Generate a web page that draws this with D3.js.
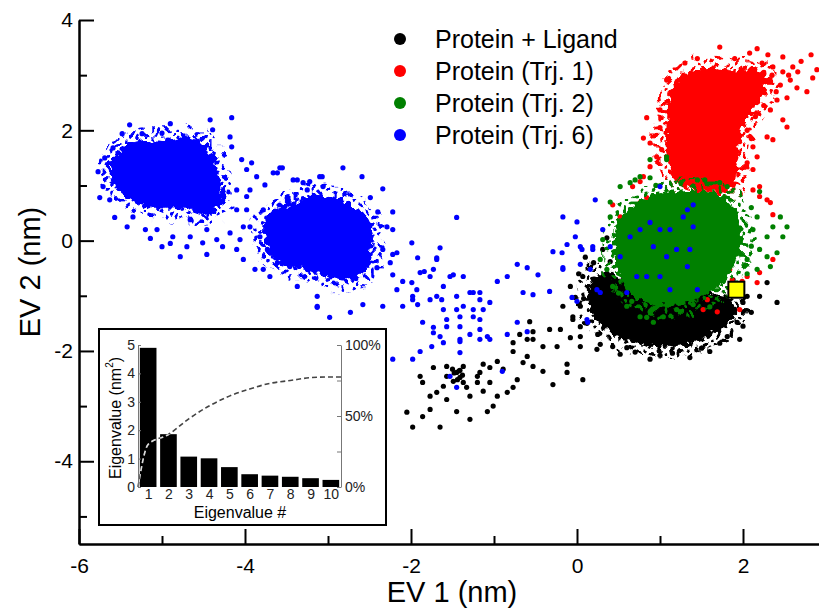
<!DOCTYPE html>
<html>
<head>
<meta charset="utf-8">
<script src="https://cdn.jsdelivr.net/npm/d3@7"></script>
<style>
  body { margin: 0; background: #fff; }
  text { font-family: "Liberation Sans", Arial, Helvetica, sans-serif; }
</style>
</head>
<body>
<div id="chart"></div>
<script>
// ---- data (EV1, EV2 in nm) ----
// dense centres of each cloud, as outlines
var blackCore = [[0.20,-0.66],[0.36,-0.55],[0.52,-0.66],[0.88,-0.92],[1.48,-0.95],[1.78,-1.00],[1.88,-1.10],[1.90,-1.34],[1.76,-1.58],[1.52,-1.78],[1.24,-1.92],[0.88,-1.90],[0.54,-1.76],[0.30,-1.55],[0.16,-1.25],[0.14,-0.92]];
var redCore = [[1.20,2.90],[1.38,3.08],[1.64,3.14],[1.88,3.08],[2.05,3.12],[2.22,3.05],[2.28,2.80],[2.18,2.50],[2.04,2.20],[1.96,1.77],[1.92,1.41],[1.90,1.05],[1.76,0.87],[1.57,0.90],[1.33,0.95],[1.18,1.10],[1.10,1.41],[1.06,1.83],[1.10,2.24],[1.12,2.61]];
var greenCore = [[0.52,0.40],[0.74,0.70],[1.00,0.86],[1.40,0.92],[1.70,0.86],[1.86,0.66],[1.96,0.36],[2.00,0.07],[1.96,-0.22],[1.86,-0.56],[1.70,-0.85],[1.50,-1.03],[1.32,-1.14],[1.08,-1.20],[0.86,-1.14],[0.62,-0.98],[0.55,-0.74],[0.47,-0.45],[0.44,-0.04],[0.47,0.24]];
var blueCoreA = [[-5.60,1.47],[-5.45,1.74],[-5.23,1.84],[-4.90,1.82],[-4.66,1.88],[-4.48,1.74],[-4.37,1.50],[-4.33,1.16],[-4.26,0.82],[-4.33,0.58],[-4.51,0.47],[-4.75,0.58],[-4.99,0.58],[-5.23,0.64],[-5.40,0.76],[-5.56,0.98],[-5.62,1.23]];
var blueCoreB = [[-3.78,0.25],[-3.67,0.54],[-3.46,0.66],[-3.18,0.83],[-2.89,0.77],[-2.67,0.60],[-2.52,0.42],[-2.45,0.14],[-2.49,-0.16],[-2.52,-0.45],[-2.63,-0.68],[-2.86,-0.72],[-3.13,-0.59],[-3.37,-0.50],[-3.59,-0.38],[-3.74,-0.16]];

// scattered frames
var blackPts = [[0.36,0.05],[0.07,-0.65],[-0.08,-0.83],[0.19,-0.83],[0.04,-1.19],[-0.05,-1.38],[0.04,-1.74],[-0.17,-1.19],[0.40,-0.38],[1.88,-0.71],[2.05,-1.01],[2.20,-1.01],[2.29,-0.76],[2.41,-1.12],[1.93,-1.48],[1.81,-1.74],[0.31,-0.16],[0.52,-2.06],[0.88,-2.15],[1.36,-2.12],[1.60,-2.01],[1.96,-1.79],[1.00,-2.08],[0.28,-1.88],[0.20,-0.40],[0.10,-0.30],
  [0.70,-2.02],[1.15,-2.04],[1.50,-1.95],[1.72,-1.86],[2.00,-1.55],[2.10,-1.30],[2.00,-1.12],[0.25,-1.70],[0.12,-1.50],[0.08,-1.05],
  [0.02,-0.60],[-0.02,-1.03],[-0.05,-1.43],[0.04,-1.56],[-0.08,-1.76],[-0.20,-1.61],[-0.33,-1.61],[-0.57,-1.47],[-0.53,-1.65],[-0.69,-1.70],[-0.60,-1.79],[-0.77,-1.85],[-0.41,-1.92],[-0.24,-1.92],[0.04,-1.92],[0.24,-1.97],[0.43,-1.92],[0.60,-1.94],[-0.12,-2.24],[-0.12,-2.39],[-0.29,-2.61],[0.07,-2.52],[-0.41,-2.37],[-0.53,-2.28],[-0.65,-2.21],[-0.60,-2.10],[-0.77,-2.01],[-0.96,-2.19],[-0.89,-2.33],[-1.05,-2.30],[-1.17,-2.39],[-1.20,-2.57],[-1.05,-2.57],[-0.96,-2.82],[-0.84,-2.75],[-0.72,-2.52],[-0.77,-2.66],[-1.37,-2.28],[-1.45,-2.39],[-1.41,-2.48],[-1.37,-2.57],[-1.33,-2.66],[-1.49,-2.55],[-1.57,-2.46],[-1.61,-2.64],[-1.69,-2.75],[-1.77,-2.82],[-1.86,-2.57],[-1.89,-2.46],[-1.73,-2.30],[-1.57,-2.28],[-1.77,-3.06],[-1.86,-3.19],[-2.05,-3.11],[-1.98,-3.38],[-1.65,-3.38],[-1.45,-3.10],[-1.29,-3.24],[-1.08,-3.10],[-1.57,-2.88],[-1.29,-2.82],[-1.13,-2.73],[-1.01,-3.00],[-0.53,-1.79],[-1.20,-2.46],[-1.41,-2.35],[-1.13,-2.24],[-1.48,-2.40],[-1.42,-2.36],[-1.38,-2.44],[-1.50,-2.33],[-1.44,-2.52]];
var redPts = [[1.72,3.51],[2.17,3.48],[2.08,3.40],[2.30,3.37],[2.48,3.33],[2.23,3.22],[2.36,3.15],[2.48,3.06],[2.66,3.06],[2.57,2.91],[2.65,2.77],[2.77,2.70],[2.84,2.95],[2.89,3.10],[2.45,2.82],[2.53,2.59],[2.41,2.55],[2.33,2.37],[2.48,2.19],[2.53,2.06],[2.29,1.88],[2.36,1.83],[2.12,1.70],[2.17,1.52],[2.05,1.41],[2.12,1.29],[2.20,0.98],[2.29,0.74],[2.12,0.92],[1.08,2.91],[1.20,2.82],[1.00,2.37],[0.84,2.23],[0.80,1.86],[0.88,1.77],[0.96,1.52],[0.88,1.34],[0.80,1.16],[0.67,0.98],[0.43,0.65],[0.52,0.43],[0.76,0.69],[0.84,0.78],[2.36,0.47],[1.84,-0.52],[2.05,-0.65],[2.17,-0.76],[2.20,-0.58],[1.99,-0.74],[1.57,-1.07],[1.69,-1.29],[1.52,-1.25],[2.36,-0.34],[1.96,-1.25],[1.87,-0.71],[0.76,1.07],[2.20,0.80],[2.33,0.69],[2.82,3.37],[2.70,3.25],[2.60,3.15],
  [2.25,3.05],[2.30,2.90],[2.20,2.65],[2.25,2.45],[2.15,2.25],[2.40,2.70],[2.35,3.00],[2.55,3.00],[1.45,3.30],[1.30,3.22],[1.90,3.30],[1.15,2.70],[1.00,2.05],[1.02,1.65],[2.05,2.00],[2.10,1.85]];
var greenPts = [[0.52,0.98],[0.64,1.05],[0.88,1.47],[1.08,1.52],[0.76,1.16],[0.88,1.14],[1.45,1.10],[1.72,1.05],[1.81,0.98],[2.20,0.89],[2.17,0.43],[2.36,0.25],[2.45,0.43],[2.53,0.25],[2.48,0.07],[2.29,0.07],[2.20,-0.16],[2.29,-0.29],[2.41,-0.22],[2.33,-0.47],[2.17,-0.52],[2.05,-0.34],[0.40,0.43],[0.31,0.02],[0.28,-0.34],[0.36,-0.52],[0.43,-0.83],[0.66,-1.10],[0.76,-1.38],[0.92,-1.48],[0.84,-1.39],[1.04,-1.38],[1.20,-1.25],[1.40,-1.16],[0.60,-1.19],[0.70,1.10],[1.08,1.47],[1.54,1.10],
  [2.10,0.60],[2.12,0.20],[2.10,-0.10],[2.05,-0.60],[1.95,-0.85],[0.40,0.70],[0.45,-0.20],[0.50,-0.95],[1.25,1.05],[0.95,1.00],[1.60,-1.20]];
var bluePts = [[-5.39,2.10],[-4.90,2.12],[-4.42,2.19],[-4.16,2.23],[-5.24,1.94],[-5.48,1.94],[-5.00,1.95],[-5.77,1.25],[-5.75,0.78],[-5.63,0.74],[-5.57,0.42],[-5.42,0.25],[-5.14,0.04],[-5.00,-0.11],[-4.90,-0.05],[-4.78,-0.29],[-4.70,-0.11],[-4.46,-0.25],[-4.27,-0.11],[-4.39,2.01],[-4.18,1.88],[-4.16,1.70],[-4.04,1.47],[-3.98,1.29],[-3.92,1.41],[-3.86,1.16],[-4.10,0.92],[-3.98,0.80],[-4.10,0.56],[-4.02,0.25],[-4.18,0.14],[-4.34,0.02],[-4.51,-0.04],[-4.66,0.07],[-4.87,0.07],[-5.06,0.20],[-5.20,0.20],[-5.35,0.43],[-5.71,0.98],[-5.69,1.50],[-5.59,1.68],[-4.66,0.38],[-4.46,0.20],
  [-3.78,0.56],[-3.70,0.33],[-3.82,0.07],[-3.61,1.23],[-3.55,1.32],[-3.42,1.10],[-3.30,1.05],[-3.22,1.07],[-3.10,1.16],[-3.06,0.98],[-3.73,-0.16],[-3.61,-0.40],[-3.78,-0.52],[-3.46,-0.47],[-3.37,-0.83],[-3.13,-1.01],[-3.13,-1.19],
  [-3.58,1.32],[-2.82,1.32],[-3.07,1.16],[-2.59,1.16],[-2.34,0.94],[-2.49,0.78],[-2.40,0.52],[-2.22,0.52],[-2.29,0.25],[-2.22,0.20],[-1.99,-0.04],[-2.34,-0.16],[-2.17,-0.22],[-2.25,-0.40],[-2.41,-0.49],[-2.22,-0.62],[-2.10,-0.74],[-1.99,-0.76],[-2.17,-0.89],[-1.98,-1.01],[-1.92,-1.16],[-2.10,-1.19],[-2.34,-1.19],[-2.58,-1.16],[-2.73,-1.30],[-2.98,-1.39],[-3.13,-1.21],[-3.70,-0.65],[-3.88,-0.52],[-4.02,-0.34],[-4.10,-0.16],[-4.06,0.02],[-3.94,0.25],[-3.98,0.56],[-3.94,0.92],[-3.76,1.01],[-3.66,1.23],[-3.37,1.10],[-3.25,0.92],
  [-1.45,0.42],[-1.65,-0.13],[-1.69,-0.34],[-1.73,-0.52],[-1.89,-0.58],[-1.77,-0.65],[-1.61,-0.83],[-1.69,-1.01],[-1.53,-0.65],[-1.37,-0.65],[-1.45,-1.01],[-1.37,-1.19],[-1.25,-0.94],[-1.17,-1.07],[-1.13,-1.25],[-1.25,-1.38],[-1.41,-1.38],[-1.61,-1.25],[-1.57,-1.56],[-1.73,-1.67],[-1.61,-1.85],[-1.41,-1.83],[-1.17,-1.61],[-1.08,-1.74],[-1.93,-0.89],[-1.98,-1.07],[-1.86,-1.48],
  [-2.22,-0.25],[-1.92,-0.31],[-1.69,-0.31],[-1.49,-0.62],[-1.84,-0.56],[-1.77,-1.07],[-1.63,-1.07],[-1.45,-1.25],[-1.29,-0.94],[-1.17,-0.94],[-1.05,-1.12],[-1.25,-1.25],[-1.17,-1.43],[-1.41,-1.56],[-1.57,-1.43],[-1.73,-1.57],[-1.65,-1.74],[-1.41,-1.79],[-1.29,-1.70],[-1.17,-1.79],[-1.05,-1.79],[-1.75,-1.92],[-1.89,-2.01],[-1.98,-2.15],[-2.22,-2.15],[-1.41,-2.03],[-1.53,-2.46],[-1.45,-2.66],[-0.96,-0.74],[-0.84,-0.65],[-0.72,-0.43],[-0.60,-0.49],[-0.47,-0.62],[-0.65,-0.94],[-0.53,-0.98],[-0.72,-1.48],[-0.84,-1.70],[-0.60,-1.65],[-0.33,-0.92],[-0.29,-0.20],[-0.18,-0.22],[-0.12,-0.07],[0.04,-0.11],[0.19,-0.11],[0.04,-0.43],[0.16,-0.52],[-0.17,-0.52],[-0.06,-1.03],[0.00,-1.10],[0.12,-1.43],[0.24,-0.89],[0.28,-0.94],[-0.90,-2.37],
  [0.22,0.74],[0.00,0.34],[-0.17,0.43],[-0.02,0.07],[0.06,-0.16],[-0.17,-0.49],[0.19,-0.16],[0.31,0.20],[0.40,-0.11],[0.52,-0.29],[0.64,0.07],[0.76,0.20],[0.88,0.33],[1.00,0.20],[1.12,0.20],[0.92,-0.11],[1.08,-0.29],[1.20,-0.16],[1.33,0.56],[1.40,0.65],[1.28,0.43],[1.40,0.25],[1.36,-0.16],[1.33,-0.47],[1.00,-0.65],[1.12,-0.89],[0.84,-0.65],[0.72,-0.65],[0.60,-0.94],[0.13,-1.48],[1.00,0.98],[1.45,-0.89]];

var refPoint = [1.92, -0.89];

var seriesNames = ["Protein + Ligand", "Protein (Trj. 1)", "Protein (Trj. 2)", "Protein (Trj. 6)"];
var seriesColors = ["#000000", "#ff0000", "#008000", "#0000ff"];

var xMajor = [-6, -4, -2, 0, 2], xMinor = [-5, -3, -1, 1];
var yMajor = [-4, -2, 0, 2, 4], yMinor = [-5, -3, -1, 1, 3];

// inset: eigenvalue spectrum
var eigenIdx = [1, 2, 3, 4, 5, 6, 7, 8, 9, 10];
var eigenVals = [4.9, 1.86, 1.07, 1.01, 0.70, 0.45, 0.40, 0.36, 0.31, 0.25];
var cumX = [0.5, 1, 2, 3, 4, 5, 6, 7, 8, 9, 10, 10.5];
var cumPct = [0, 30, 37, 48, 57, 64, 69, 73, 75, 77, 77.5, 77.5];

// ---- chart ----
var width = 819, height = 609;

var svg = d3.select("#chart").append("svg")
    .attr("width", width)
    .attr("height", height);

var defs = svg.append("defs");

// ragged edge for the dense centres
function noiseFilter(id, freq, scale, seed) {
    var f = defs.append("filter")
        .attr("id", id)
        .attr("x", "-30%").attr("y", "-30%")
        .attr("width", "160%").attr("height", "160%");
    f.append("feTurbulence")
        .attr("type", "fractalNoise")
        .attr("baseFrequency", freq)
        .attr("numOctaves", 1)
        .attr("seed", seed)
        .attr("result", "noise");
    f.append("feDisplacementMap")
        .attr("in", "SourceGraphic")
        .attr("in2", "noise")
        .attr("scale", scale)
        .attr("xChannelSelector", "R")
        .attr("yChannelSelector", "G");
}
noiseFilter("grain", 0.18, 14, 4);
noiseFilter("jitter", 0.09, 18, 9);

// dot texture for the halo around each centre
seriesColors.forEach(function (c, i) {
    var p = defs.append("pattern")
        .attr("id", "dots" + i)
        .attr("patternUnits", "userSpaceOnUse")
        .attr("width", 13).attr("height", 11);
    p.append("circle").attr("cx", 3).attr("cy", 2.5).attr("r", 2.4).attr("fill", c);
    p.append("circle").attr("cx", 9.5).attr("cy", 8).attr("r", 2.4).attr("fill", c);
});

var x = d3.scaleLinear().domain([-6, 3]).range([79, 826]);
var y = d3.scaleLinear().domain([-5.5, 4]).range([544, 20]);

var plot = svg.append("g");

var blob = d3.line()
    .x(function (d) { return x(d[0]); })
    .y(function (d) { return y(d[1]); })
    .curve(d3.curveCardinalClosed.tension(0.2));

function drawSeries(cores, pts, idx) {
    var color = seriesColors[idx];
    var g = plot.append("g");
    cores.forEach(function (c) {
        g.append("path")
            .attr("d", blob(c))
            .attr("fill", "none")
            .attr("stroke", "url(#dots" + idx + ")")
            .attr("stroke-width", 24)
            .attr("filter", "url(#jitter)");
        g.append("path")
            .attr("d", blob(c))
            .attr("fill", color)
            .attr("filter", "url(#grain)");
    });
    g.selectAll("circle")
        .data(pts)
        .join("circle")
        .attr("cx", function (d) { return x(d[0]); })
        .attr("cy", function (d) { return y(d[1]); })
        .attr("r", 2.6)
        .attr("fill", color);
}

drawSeries([blackCore], blackPts, 0);
drawSeries([redCore], redPts, 1);
drawSeries([greenCore], greenPts, 2);
drawSeries([blueCoreA, blueCoreB], bluePts, 3);

plot.append("rect")
    .attr("x", x(refPoint[0]) - 8)
    .attr("y", y(refPoint[1]) - 8)
    .attr("width", 16)
    .attr("height", 16)
    .attr("fill", "#ffff00")
    .attr("stroke", "#000")
    .attr("stroke-width", 2);

// axes
function hyphenFmt(d) { return d < 0 ? "-" + Math.abs(d) : String(d); }

function styleAxis(g, size) {
    g.selectAll("path, line").attr("stroke", "#000").attr("stroke-width", 2);
    g.selectAll("text").attr("fill", "#000").style("font-size", size + "px");
}

var xAxisG = svg.append("g").attr("transform", "translate(0,544)");
xAxisG.call(d3.axisBottom(x).tickValues(xMajor).tickSize(-15).tickSizeOuter(0).tickPadding(14).tickFormat(hyphenFmt));
xAxisG.append("g").call(d3.axisBottom(x).tickValues(xMinor).tickSize(-8).tickSizeOuter(0).tickFormat(""));
styleAxis(xAxisG, 21);

var yAxisG = svg.append("g").attr("transform", "translate(79,0)");
yAxisG.call(d3.axisLeft(y).tickValues(yMajor).tickSize(-15).tickSizeOuter(0).tickPadding(6).tickFormat(hyphenFmt));
yAxisG.append("g").call(d3.axisLeft(y).tickValues(yMinor).tickSize(-8).tickSizeOuter(0).tickFormat(""));
styleAxis(yAxisG, 21);

svg.append("text")
    .attr("x", 452).attr("y", 602)
    .attr("text-anchor", "middle")
    .style("font-size", "29px")
    .text("EV 1 (nm)");

svg.append("text")
    .attr("transform", "translate(30,272) rotate(-90)")
    .attr("text-anchor", "middle")
    .attr("dominant-baseline", "central")
    .style("font-size", "29px")
    .text("EV 2 (nm)");

// legend
var legend = svg.append("g").selectAll("g")
    .data(seriesNames)
    .join("g")
    .attr("transform", function (d, i) { return "translate(400," + (39 + i * 32) + ")"; });

legend.append("circle")
    .attr("r", 6)
    .attr("fill", function (d, i) { return seriesColors[i]; });

legend.append("text")
    .attr("x", 35)
    .attr("dominant-baseline", "central")
    .style("font-size", "25px")
    .text(function (d) { return d; });

// ---- inset ----
var inset = svg.append("g");

inset.append("rect")
    .attr("x", 99).attr("y", 329)
    .attr("width", 287).attr("height", 196)
    .attr("fill", "#fff")
    .attr("stroke", "#000")
    .attr("stroke-width", 2);

var ix = d3.scaleLinear().domain([0.5, 10.5]).range([138, 341]);
var iy = d3.scaleLinear().domain([0, 5]).range([487, 345]);
var ip = d3.scaleLinear().domain([0, 100]).range([487, 345]);

function barAttrs(sel) {
    sel.attr("x", function (d) { return ix(d - 0.41); })
        .attr("width", function (d) { return ix(d + 0.41) - ix(d - 0.41); })
        .attr("y", function (d, i) { return iy(eigenVals[i]); })
        .attr("height", function (d, i) { return iy(0) - iy(eigenVals[i]); });
}

inset.append("g").selectAll("rect")
    .data(eigenIdx)
    .join("rect")
    .call(barAttrs)
    .attr("fill", "#000");

svg.append("clipPath").attr("id", "barclip")
    .selectAll("rect")
    .data(eigenIdx)
    .join("rect")
    .call(barAttrs);

var cumLine = d3.line()
    .x(function (d, i) { return ix(cumX[i]); })
    .y(function (d) { return ip(d); })
    .curve(d3.curveMonotoneX);

inset.append("path")
    .attr("d", cumLine(cumPct))
    .attr("fill", "none")
    .attr("stroke", "#444")
    .attr("stroke-width", 1.6)
    .attr("stroke-dasharray", "5 3");

inset.append("path")
    .attr("d", cumLine(cumPct))
    .attr("clip-path", "url(#barclip)")
    .attr("fill", "none")
    .attr("stroke", "#ddd")
    .attr("stroke-width", 1.6)
    .attr("stroke-dasharray", "5 3");

function styleInset(g) {
    g.selectAll("path, line").attr("stroke", "#777").attr("stroke-width", 1);
    g.selectAll("text").attr("fill", "#222").style("font-size", "14px");
}

var iLeft = inset.append("g").attr("transform", "translate(138,0)")
    .call(d3.axisLeft(iy).tickValues([0, 1, 2, 3, 4, 5]).tickSize(-3).tickSizeOuter(0).tickPadding(3).tickFormat(d3.format("d")));
styleInset(iLeft);

var iRight = inset.append("g").attr("transform", "translate(341,0)")
    .call(d3.axisRight(ip).tickValues([0, 25, 50, 75, 100]).tickSize(-4).tickSizeOuter(0).tickPadding(4)
        .tickFormat(function (d) { return d % 50 === 0 ? d + "%" : ""; }));
styleInset(iRight);

var iBottom = inset.append("g").attr("transform", "translate(0,487)")
    .call(d3.axisBottom(ix).tickValues(eigenIdx).tickSize(0).tickPadding(2).tickFormat(d3.format("d")));
styleInset(iBottom);
iBottom.select(".domain").remove();

inset.append("text")
    .attr("x", 240).attr("y", 518)
    .attr("text-anchor", "middle")
    .style("font-size", "16px")
    .text("Eigenvalue #");

var yt = inset.append("text")
    .attr("transform", "translate(115,418) rotate(-90)")
    .attr("text-anchor", "middle")
    .attr("dominant-baseline", "central")
    .style("font-size", "16px");
yt.append("tspan").text("Eigenvalue (nm");
yt.append("tspan").attr("dy", -6).style("font-size", "10px").text("2");
yt.append("tspan").attr("dy", 6).text(")");
</script>
</body>
</html>
